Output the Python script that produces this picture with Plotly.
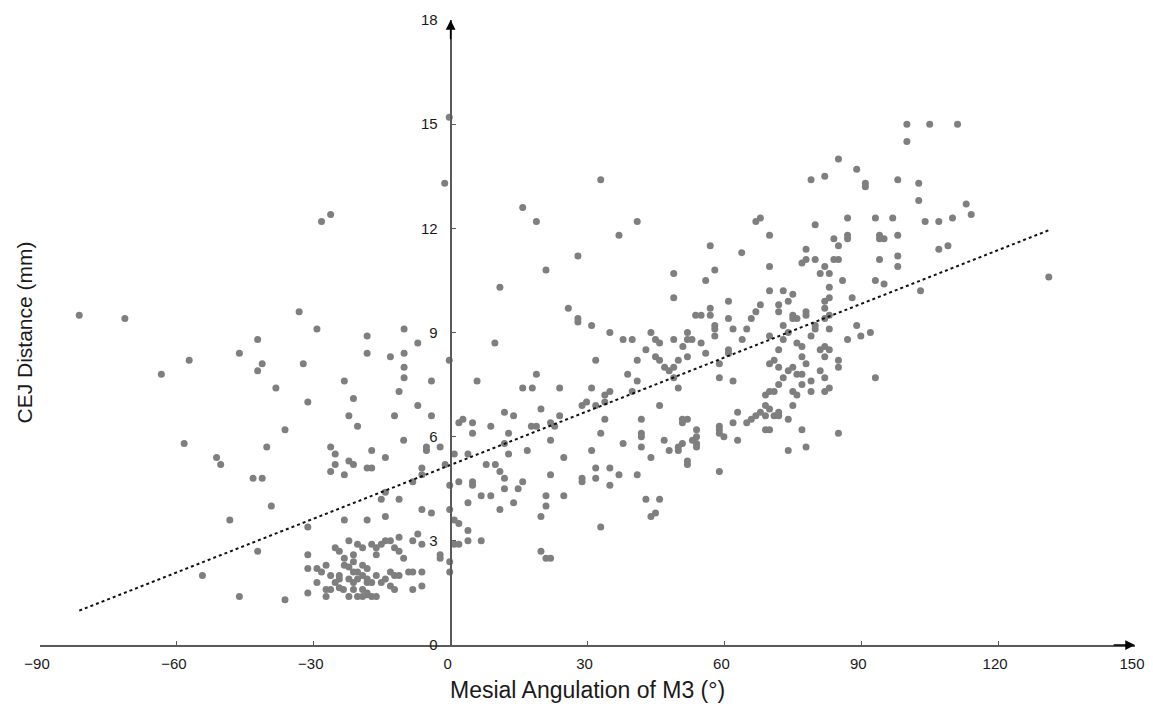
import plotly.graph_objects as go

# Mesial angulation of M3 (degrees)
angle = [
    -81.4, -71.4, -33.2, -29.3, -42.3, -46.3, -57.3, -41.3, -42.3, -32.3, -63.4, -38.3, -31.3, -36.3, -58.4,
    -40.3, -51.3, -50.4, -43.3, -41.3, -39.3, -48.4, -31.3, -42.3, -31.3, -54.4, -46.3, -36.3, -31.3, -29.3,
    -28.3, -27.3, -29.3, -31.3, -27.3, -27.3,
    -23.3, -21.3, -11.3, -4.2, -22.3, -20.4, -12.3, -7.2, -4.2, -10.3, -26.3, -25.3, -17.3, -14.3, -5.3, -5.3,
    -2.3, -22.3, -21.3, -25.3, -26.3, -23.3, -18.3, -17.3, -6.3, -8.3, -6.3, -1.2, -14.3, -15.2, -11.3, -6.3,
    -4.2, -23.3, -18.3, -14.3, -2.3, -2.3, -0.2, -0.2, -0.2, -0.2,
    -11.3, -14.3, -13.2, -15.2, -17.3, -22.3, -20.4, -19.3, -25.3, -8.3, -7.2, -6.3, -24.4, -21.3, -16.3, -12.3,
    -11.3, -16.3, -10.3, -23.3, -21.3, -23.3, -22.3, -19.3, -18.3, -20.4, -21.3, -26.3, -24.4, -22.3, -19.3,
    -18.3, -16.3, -14.3, -13.2, -12.3, -11.3, -9.2, -8.3, -6.3, -24.4, -25.3, -20.4, -18.3, -17.3, -15.2, -13.2,
    -26.3, -24.4, -23.5, -21.3, -19.3, -18.3, -12.3, -6.3, -8.3, -22.3, -20.4, -17.3, -16.3, -18.3, -19.3, -21.3,
    -0.3, -1.3, -28.3, -26.3, -18.3, -18.3, -13.2, -10.2, -10.2, -10.2, -10.2, -7.2, -0.3,
    32.9, 15.8, 18.8, 40.9, 36.9, 27.9, 20.9, 10.8, 48.9, 48.9, 53.7, 25.8, 27.9, 27.9, 30.9, 34.9, 37.8, 39.8,
    43.9, 44.9, 45.8, 48.9, 51.9, 51.9, 52.9, 50.9, 42.8, 44.9, 45.8, 51.9, 49.9, 40.9, 31.8, 46.9, 47.9, 48.9,
    48.9, 38.8, 40.9, 18.8, 9.7, 5.8, 15.8, 17.9, 23.9, 30.9, 49.9,
    34.9, 33.8, 39.8, 28.8, 29.8, 31.8, 33.8, 19.8, 23.9, 11.8, 13.8, 1.8, 2.7, 4.8, 4.8, 8.8, 17.7, 18.8, 21.9,
    22.8, 33.8, 45.8, 41.8, 41.8, 41.8, 41.8, 50.8, 51.9, 50.8, 53.9, 53.0, 53.9, 53.9, 50.8, 49.9, 49.9, 46.8,
    47.9, 51.9, 51.9, 53.9, 43.9, 37.8, 32.9, 30.9, 21.9, 12.7, 11.8, 12.7, 16.8, 3.8, 0.8, 7.8, 9.8, 10.8, 11.8,
    11.8, 15.8, 14.8, 1.8, 4.8, 4.8, 6.7, 8.8, 3.8, 10.8, 13.8, 21.9, 24.8, 24.8, 20.9, 20.9, 19.8, 28.8, 28.8,
    31.8, 31.8, 34.9, 34.9, 36.9, 40.9, 42.8, 45.8, 43.9, 44.9, 32.9, 19.8, 20.9, 21.9, 0.8, 1.8, 3.8, 3.8, 6.7,
    0.8, 1.8,
    100.0, 100.0, 85.0, 89.0, 82.0, 79.0, 90.9, 90.9, 98.0, 102.6, 102.6, 66.9, 67.9, 79.9, 87.0, 93.1, 96.9,
    69.9, 84.0, 87.0, 87.0, 85.0, 94.0, 94.0, 95.0, 98.0, 56.9, 63.8, 77.9, 77.0, 77.9, 79.9, 84.0, 85.0, 82.0,
    81.0, 83.0, 69.9, 94.0, 98.0, 98.0, 57.9, 55.9, 85.9, 93.1, 95.0, 69.9, 72.9, 75.0, 83.0, 74.0, 71.9, 67.9,
    66.9, 60.9, 56.9, 56.9, 54.9, 71.9, 75.0, 75.0, 75.9, 77.9, 77.9, 82.0, 82.0, 83.0, 83.0, 82.0, 88.0, 60.9,
    65.9, 57.9, 57.9, 57.9, 61.9, 64.9, 72.9, 79.9, 79.9, 83.0, 89.0, 54.9, 63.9, 69.9, 72.9, 74.0, 79.0, 87.0,
    89.9, 92.0, 60.9, 60.9, 55.9, 58.9, 71.9, 75.9, 77.0, 81.0, 82.0, 83.0, 82.0, 85.0, 85.0, 77.0, 77.9, 69.9,
    70.9, 71.9, 74.0, 75.0, 75.9, 77.0, 72.9, 81.0, 82.0, 79.0, 77.0, 71.9, 93.1, 58.9, 61.9,
    82.0, 83.0, 79.0, 75.0, 75.9, 69.0, 69.9, 70.9, 75.0, 69.0, 69.9, 71.9, 70.9, 71.9, 69.0, 67.9, 66.9, 65.9,
    64.9, 62.9, 61.9, 74.0, 69.0, 69.9, 77.0, 85.0, 58.9, 58.9, 59.9, 58.9, 62.9, 74.0, 77.9, 58.9,
    105.0, 111.1, 113.0, 114.1, 104.0, 107.0, 110.0, 107.0, 109.0, 103.0, 131.1,
]

# CEJ distance (mm)
cej = [
    9.5, 9.4, 9.6, 9.1, 8.8, 8.4, 8.2, 8.1, 7.9, 8.1, 7.8, 7.4, 7.0, 6.2, 5.8,
    5.7, 5.4, 5.2, 4.8, 4.8, 4.0, 3.6, 3.4, 2.7, 2.6, 2.0, 1.4, 1.3, 2.2, 2.2,
    2.1, 2.3, 1.8, 1.5, 1.6, 1.4,
    7.6, 7.1, 7.3, 7.6, 6.6, 6.3, 6.6, 6.9, 6.6, 5.9, 5.7, 5.5, 5.6, 5.4, 5.7, 5.6,
    5.7, 5.3, 5.2, 5.2, 5.0, 4.9, 5.1, 5.1, 5.1, 4.7, 4.9, 5.2, 4.4, 4.2, 4.2, 3.9,
    3.8, 3.6, 3.6, 3.7, 2.6, 2.5, 4.6, 3.9, 2.4, 2.1,
    3.1, 3.0, 3.0, 2.9, 2.9, 3.0, 2.9, 2.8, 2.8, 3.0, 3.2, 2.9, 2.7, 2.6, 2.8, 2.8,
    2.7, 2.6, 2.5, 2.5, 2.4, 2.3, 2.25, 2.3, 2.2, 2.1, 2.1, 2.0, 2.0, 1.9, 2.0,
    1.9, 2.0, 1.9, 2.1, 2.0, 2.0, 2.1, 2.1, 2.1, 1.9, 1.8, 1.9, 1.8, 1.8, 1.8, 1.7,
    1.6, 1.65, 1.6, 1.6, 1.6, 1.5, 1.6, 1.7, 1.6, 1.4, 1.4, 1.4, 1.4, 1.45, 1.4, 1.8,
    15.2, 13.3, 12.2, 12.4, 8.9, 8.4, 8.3, 9.1, 8.4, 8.0, 7.7, 8.7, 8.2,
    13.4, 12.6, 12.2, 12.2, 11.8, 11.2, 10.8, 10.3, 10.7, 10.0, 9.5, 9.7, 9.4, 9.3, 9.2, 9.0, 8.8, 8.8,
    9.0, 8.8, 8.7, 8.8, 9.0, 8.8, 8.8, 8.6, 8.5, 8.3, 8.2, 8.3, 8.2, 8.2, 8.2, 8.0, 7.9, 8.0,
    7.7, 7.8, 7.6, 7.8, 8.7, 7.6, 7.4, 7.4, 7.4, 7.4, 7.4,
    7.3, 7.2, 7.3, 6.9, 7.0, 6.9, 7.0, 6.8, 6.6, 6.7, 6.6, 6.4, 6.5, 6.4, 6.1, 6.3, 6.3, 6.3, 6.4,
    6.3, 6.5, 6.9, 6.5, 6.1, 6.0, 5.7, 6.5, 6.5, 6.4, 6.2, 5.9, 6.0, 5.8, 5.8, 5.7, 5.6, 5.9,
    5.6, 5.3, 5.2, 5.7, 5.4, 5.8, 6.1, 5.6, 5.9, 6.1, 5.8, 5.5, 5.6, 5.5, 5.5, 5.2, 5.2, 5.0, 4.8,
    4.5, 4.7, 4.5, 4.7, 4.7, 4.6, 4.3, 4.3, 4.1, 3.9, 4.1, 4.9, 5.4, 4.3, 4.3, 4.0, 3.7, 4.8, 4.7,
    5.1, 4.8, 5.1, 4.6, 4.9, 4.9, 4.2, 4.2, 3.7, 3.8, 3.4, 2.7, 2.5, 2.5, 3.6, 3.5, 3.3, 3.0, 3.0,
    2.9, 2.9,
    15.0, 14.5, 14.0, 13.7, 13.5, 13.4, 13.3, 13.2, 13.4, 13.3, 12.8, 12.2, 12.3, 12.1, 12.3, 12.3, 12.3,
    11.8, 11.7, 11.8, 11.7, 11.5, 11.8, 11.7, 11.7, 11.8, 11.5, 11.3, 11.4, 11.0, 11.1, 11.1, 11.1, 11.1, 10.9,
    10.7, 10.7, 10.9, 11.1, 11.2, 10.9, 10.8, 10.5, 10.5, 10.5, 10.4, 10.2, 10.2, 10.1, 10.3, 9.9, 9.8, 9.8,
    9.6, 9.9, 9.7, 9.5, 9.5, 9.6, 9.5, 9.4, 9.4, 9.6, 9.5, 9.9, 9.7, 10.0, 9.5, 9.4, 10.0, 9.4,
    9.4, 9.2, 9.1, 8.9, 9.1, 9.1, 9.2, 9.2, 9.1, 9.1, 9.2, 8.7, 8.8, 8.9, 8.8, 9.0, 8.9, 8.8,
    8.9, 9.0, 8.5, 8.4, 8.4, 8.1, 8.5, 8.7, 8.6, 8.5, 8.6, 8.5, 8.3, 8.2, 8.0, 8.3, 8.1, 8.1,
    8.2, 8.0, 7.9, 8.0, 7.8, 7.8, 7.7, 7.9, 7.7, 7.6, 7.5, 7.5, 7.7, 7.7, 7.6,
    7.3, 7.4, 7.3, 7.3, 7.2, 7.2, 7.3, 7.3, 6.9, 6.9, 6.8, 6.7, 6.6, 6.6, 6.6, 6.7, 6.6, 6.5,
    6.4, 6.7, 6.4, 6.5, 6.2, 6.2, 6.2, 6.1, 6.3, 6.2, 6.0, 6.1, 5.9, 5.6, 5.7, 5.0,
    15.0, 15.0, 12.7, 12.4, 12.2, 12.2, 12.3, 11.4, 11.5, 10.2, 10.6,
]

# Linear trendline end points
trend_x = [-81.4, 131.0]
trend_y = [0.99, 11.94]

x_ticks = [-90, -60, -30, 0, 30, 60, 90, 120, 150]
y_ticks = [0, 3, 6, 9, 12, 15, 18]

axis_color = "#5a5a5a"
text_color = "#1a1a1a"
font_family = "Liberation Sans, Arial, sans-serif"

fig = go.Figure()
fig.add_trace(go.Scatter(
    x=angle, y=cej, mode="markers",
    marker=dict(color="#7f7f7f", size=7, line=dict(width=0)),
    showlegend=False, cliponaxis=False,
))
fig.add_trace(go.Scatter(
    x=trend_x, y=trend_y, mode="lines",
    line=dict(color="#111111", width=2, dash="dot"),
    showlegend=False,
))

x_pos = (0 - x_ticks[0]) / (x_ticks[-1] - x_ticks[0])

fig.update_layout(
    width=1145, height=696,
    margin=dict(l=32, r=18, t=12, b=59, autoexpand=False),
    plot_bgcolor="white", paper_bgcolor="white",
    font=dict(family=font_family, color=text_color),
    xaxis=dict(
        range=[x_ticks[0], x_ticks[-1]], tickvals=x_ticks,
        automargin=False,
        showgrid=False, zeroline=False,
        showline=True, linecolor=axis_color, linewidth=2,
        ticks="inside", ticklen=4, tickcolor=axis_color,
        ticklabelstandoff=4, ticklabeloverflow="allow", ticklabelshift=-3,
        tickfont=dict(size=15, family=font_family, color=text_color),
    ),
    yaxis=dict(
        range=[y_ticks[0], y_ticks[-1]], tickvals=y_ticks,
        automargin=False,
        anchor="free", position=x_pos,
        showgrid=False, zeroline=False,
        showline=True, linecolor=axis_color, linewidth=2,
        ticks="inside", ticklen=4, tickcolor=axis_color,
        ticklabelstandoff=9, ticklabeloverflow="allow",
        tickfont=dict(size=15, family=font_family, color=text_color),
    ),
    annotations=[
        dict(x=x_ticks[-1], y=0, ax=x_ticks[-1] - 5, ay=0, xref="x", yref="y",
             axref="x", ayref="y", showarrow=True, arrowhead=2, arrowsize=1.3,
             arrowwidth=1.5, arrowcolor="black", text=""),
        dict(x=0, y=y_ticks[-1], ax=0, ay=y_ticks[-1] - 0.6, xref="x", yref="y",
             axref="x", ayref="y", showarrow=True, arrowhead=2, arrowsize=1.3,
             arrowwidth=1.5, arrowcolor="black", text=""),
        dict(text="Mesial Angulation of M3 (°)", x=0.5, y=-0.072, xref="paper", yref="paper",
             xanchor="center", yanchor="middle", showarrow=False,
             font=dict(size=23, family=font_family, color=text_color)),
        dict(text="CEJ Distance (mm)", x=-0.0146, y=0.5, xref="paper", yref="paper",
             xanchor="center", yanchor="middle", textangle=-90, showarrow=False,
             font=dict(size=21, family=font_family, color=text_color)),
    ],
)

fig.write_html("out.html")
